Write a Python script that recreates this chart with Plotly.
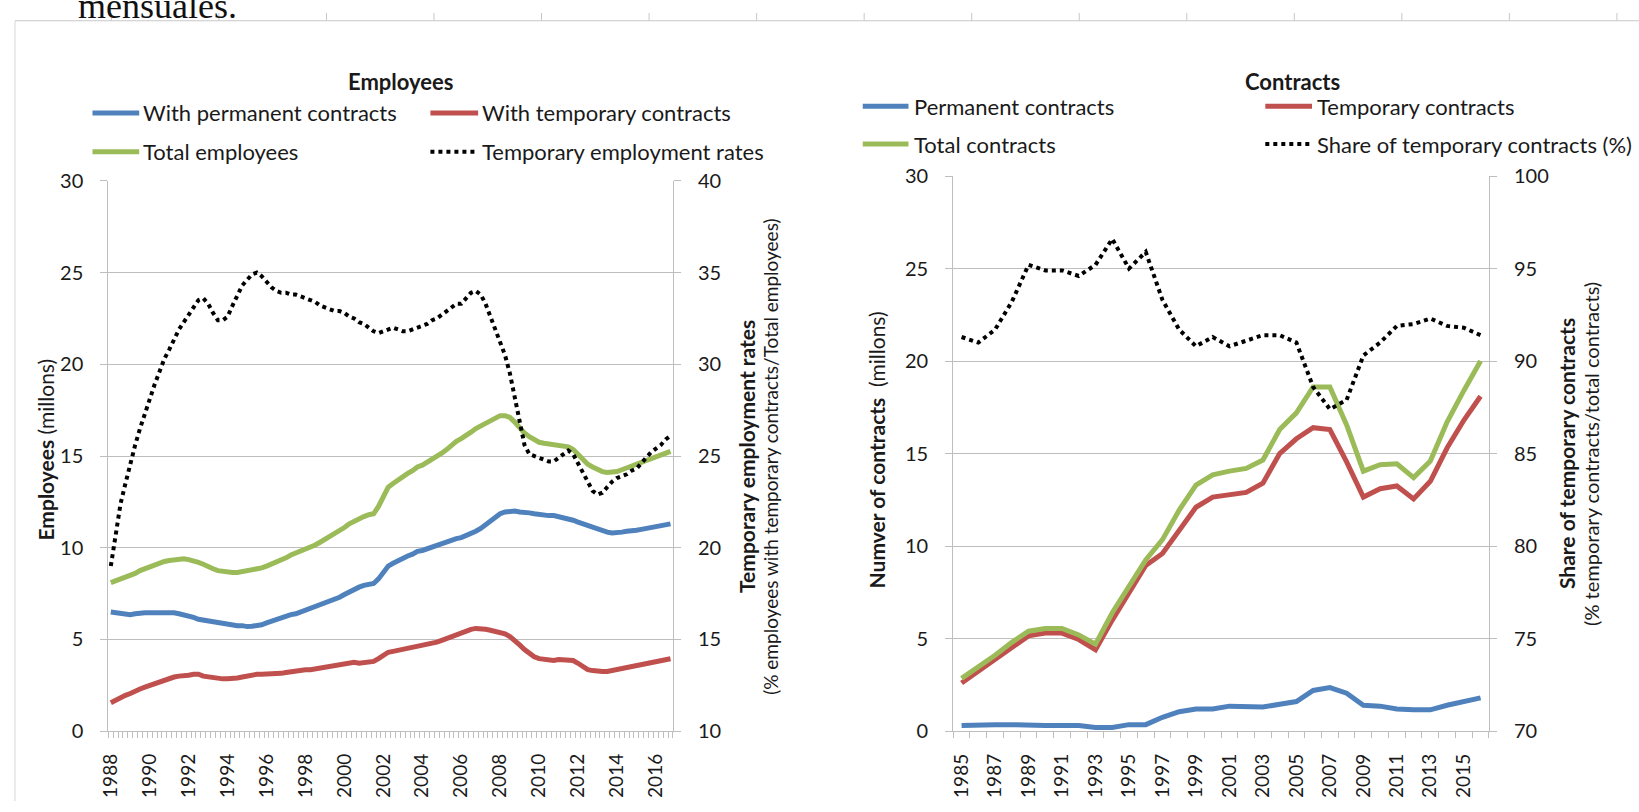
import plotly.graph_objects as go

# ---------------- Employees (quarterly, 1988Q1-2016Q4) ----------------
emp_years = list(range(1988, 2017))
emp_x = [y + q / 4 for y in emp_years for q in range(4)]

emp_permanent = [
    6.5, 6.45, 6.4, 6.35,  6.35, 6.4, 6.45, 6.45,  6.45, 6.45, 6.5, 6.45,
    6.45, 6.45, 6.4, 6.35,  6.3, 6.2, 6.1, 6.05,  6.0, 5.95, 5.9, 5.85,
    5.85, 5.8, 5.75, 5.75,  5.7, 5.72, 5.75, 5.8,  5.9, 6.0, 6.1, 6.2,
    6.25, 6.35, 6.4, 6.5,  6.55, 6.65, 6.75, 6.85,  6.95, 7.05, 7.15, 7.3,
    7.45, 7.6, 7.75, 7.85,  7.95, 8.0, 8.05, 8.3,  8.7, 9.0, 9.15, 9.3,
    9.45, 9.55, 9.65, 9.8,  9.85, 9.95, 10.05, 10.1,  10.2, 10.3, 10.4, 10.5,
    10.55, 10.65, 10.75, 10.9,  11.05, 11.25, 11.45, 11.65,  11.85, 11.95, 12.0, 12.0,
    11.95, 11.95, 11.9, 11.85,  11.8, 11.8, 11.75, 11.75,  11.7, 11.65, 11.6, 11.5,
    11.4, 11.3, 11.2, 11.1,  11.0, 10.9, 10.85, 10.8,  10.8, 10.85, 10.9, 10.9,
    10.95, 11.0, 11.05, 11.1,  11.15, 11.2, 11.25, 11.3,
]
emp_temporary = [
    1.55, 1.7, 1.85, 1.95,  2.05, 2.2, 2.3, 2.4,  2.5, 2.6, 2.7, 2.8,
    2.85, 2.95, 3.0, 3.0,  3.05, 3.1, 3.1, 3.0,  2.95, 2.9, 2.85, 2.85,
    2.85, 2.85, 2.9, 2.95,  3.0, 3.1, 3.1, 3.1,  3.1, 3.15, 3.15, 3.15,
    3.2, 3.25, 3.3, 3.3,  3.35, 3.35, 3.4, 3.45,  3.5, 3.55, 3.6, 3.65,
    3.65, 3.7, 3.75, 3.7,  3.75, 3.8, 3.8, 3.95,  4.15, 4.3, 4.35, 4.4,
    4.45, 4.5, 4.55, 4.6,  4.65, 4.7, 4.8, 4.85,  4.95, 5.05, 5.2, 5.3,
    5.4, 5.45, 5.55, 5.6,  5.6, 5.55, 5.5, 5.45,  5.4, 5.3, 5.15, 4.95,
    4.7, 4.45, 4.25, 4.05,  3.95, 3.9, 3.9, 3.85,  3.9, 3.9, 3.9, 3.85,
    3.7, 3.5, 3.35, 3.3,  3.25, 3.25, 3.25, 3.3,  3.35, 3.4, 3.45, 3.5,
    3.55, 3.6, 3.7, 3.75,  3.8, 3.85, 3.9, 3.95,
]
emp_total = [
    8.1, 8.2, 8.3, 8.35,  8.45, 8.6, 8.75, 8.85,  8.95, 9.05, 9.2, 9.25,
    9.3, 9.35, 9.4, 9.4,  9.35, 9.3, 9.2, 9.1,  8.95, 8.85, 8.75, 8.7,
    8.7, 8.65, 8.65, 8.7,  8.7, 8.8, 8.85, 8.9,  9.0, 9.1, 9.2, 9.3,
    9.45, 9.6, 9.7, 9.8,  9.9, 10.0, 10.15, 10.3,  10.45, 10.6, 10.75, 10.95,
    11.1, 11.3, 11.45, 11.55,  11.7, 11.8, 11.85, 12.25,  12.85, 13.3, 13.5, 13.7,
    13.9, 14.05, 14.2, 14.4,  14.5, 14.65, 14.85, 14.95,  15.15, 15.35, 15.6, 15.8,
    15.95, 16.1, 16.3, 16.5,  16.65, 16.8, 16.95, 17.1,  17.2, 17.2, 17.1, 16.85,
    16.5, 16.25, 16.05, 15.9,  15.75, 15.7, 15.65, 15.6,  15.6, 15.55, 15.5, 15.35,
    15.1, 14.8, 14.55, 14.4,  14.25, 14.15, 14.1, 14.1,  14.15, 14.25, 14.35, 14.4,
    14.5, 14.6, 14.75, 14.85,  14.95, 15.05, 15.15, 15.25,
]
temp_employment_rate = [
    19.0, 20.8, 22.4, 23.5,  24.6, 25.6, 26.5, 27.3,  28.2, 28.9, 29.6, 30.3,
    30.8, 31.4, 31.9, 32.3,  32.7, 33.1, 33.5, 33.6,  33.3, 32.8, 32.4, 32.4,
    32.6, 33.2, 33.8, 34.3,  34.6, 34.9, 35.0, 34.8,  34.5, 34.2, 34.0, 33.9,
    33.9, 33.8, 33.8, 33.7,  33.6, 33.5, 33.4, 33.2,  33.1, 33.0, 32.9, 32.9,
    32.8, 32.6, 32.5, 32.3,  32.2, 32.0, 31.8, 31.7,  31.8, 31.9, 32.0, 31.9,
    31.8, 31.8, 31.9, 32.0,  32.1, 32.2, 32.4, 32.5,  32.7, 32.9, 33.1, 33.3,
    33.3, 33.6, 33.9, 34.0,  33.8, 33.3, 32.6, 31.9,  31.2, 30.5, 29.5, 28.2,
    26.8, 25.6, 25.1, 25.0,  24.9, 24.8, 24.7, 24.7,  24.9, 25.1, 25.3, 25.1,
    24.6, 24.0, 23.5, 23.1,  22.9, 23.0, 23.3, 23.6,  23.8, 23.9, 24.0, 24.2,
    24.3, 24.6, 24.9, 25.2,  25.4, 25.6, 25.9, 26.1,
]
emp_tick_years = list(range(1988, 2017, 2))

# ---------------- Contracts (annual, 1985-2016) ----------------
contract_years = list(range(1985, 2017))
contracts_permanent = [
    0.3, 0.35, 0.35, 0.35, 0.3, 0.3, 0.3, 0.3, 0.2, 0.2, 0.35, 0.35,
    0.75, 1.05, 1.2, 1.2, 1.35, 1.3, 1.3, 1.45, 1.6, 2.2, 2.35, 2.05,
    1.4, 1.35, 1.2, 1.15, 1.15, 1.4, 1.6, 1.8,
]
contracts_temporary = [
    2.6, 3.25, 3.9, 4.55, 5.15, 5.3, 5.3, 4.95, 4.4, 6.0, 7.5, 8.95,
    9.6, 10.9, 12.1, 12.65, 12.75, 12.9, 13.4, 15.0, 15.8, 16.4, 16.3, 14.55,
    12.65, 13.1, 13.25, 12.55, 13.5, 15.3, 16.8, 18.1,
]
contracts_total = [
    2.85, 3.45, 4.1, 4.8, 5.4, 5.55, 5.55, 5.2, 4.7, 6.4, 7.8, 9.25,
    10.35, 11.95, 13.3, 13.85, 14.05, 14.2, 14.65, 16.3, 17.2, 18.6, 18.6, 16.55,
    14.05, 14.4, 14.45, 13.7, 14.6, 16.7, 18.4, 20.0,
]
temp_contract_share = [
    91.3, 91.0, 91.7, 93.2, 95.2, 94.9, 94.9, 94.6, 95.2, 96.6, 95.0, 95.9,
    93.3, 91.7, 90.8, 91.3, 90.8, 91.1, 91.4, 91.4, 91.0, 88.6, 87.4, 87.9,
    90.3, 91.0, 91.9, 92.0, 92.3, 91.9, 91.8, 91.4,
]
contract_tick_years = list(range(1985, 2016, 2))

# ---------------- styling ----------------
W, H = 1639, 812
BLUE, RED, GREEN = "#4F81BD", "#C0504D", "#9BBB59"
GRID = "#BEBEBE"
FONT = "Lato"
TXT = "#1a1a1a"
DOTS = "4px,4px"


def px_x(v):
    return v / W


def px_y(v):
    return 1 - v / H


fig = go.Figure()

solid = dict(width=5)
dotted = dict(color="black", width=4, dash=DOTS)

fig.add_trace(go.Scatter(x=emp_x, y=emp_permanent, mode="lines",
                         line=dict(color=BLUE, **solid), xaxis="x", yaxis="y"))
fig.add_trace(go.Scatter(x=emp_x, y=emp_temporary, mode="lines",
                         line=dict(color=RED, **solid), xaxis="x", yaxis="y"))
fig.add_trace(go.Scatter(x=emp_x, y=emp_total, mode="lines",
                         line=dict(color=GREEN, **solid), xaxis="x", yaxis="y"))
fig.add_trace(go.Scatter(x=emp_x, y=temp_employment_rate, mode="lines",
                         line=dotted, xaxis="x", yaxis="y2"))

fig.add_trace(go.Scatter(x=contract_years, y=contracts_permanent, mode="lines",
                         line=dict(color=BLUE, **solid), xaxis="x2", yaxis="y3"))
fig.add_trace(go.Scatter(x=contract_years, y=contracts_temporary, mode="lines",
                         line=dict(color=RED, **solid), xaxis="x2", yaxis="y3"))
fig.add_trace(go.Scatter(x=contract_years, y=contracts_total, mode="lines",
                         line=dict(color=GREEN, **solid), xaxis="x2", yaxis="y3"))
fig.add_trace(go.Scatter(x=contract_years, y=temp_contract_share, mode="lines",
                         line=dotted, xaxis="x2", yaxis="y4"))

# plot-area boxes in pixels
L = dict(x0=99, x1=667, y0=173, y1=740)
R = dict(x0=949, x1=1488, y0=168, y1=740)

tickfont = dict(family=FONT, size=20, color=TXT)
yaxis_common = dict(showline=True, linecolor=GRID, linewidth=1.2, ticks="outside",
                    ticklen=7, tickcolor=GRID, tickfont=tickfont, zeroline=False,
                    ticklabelstandoff=13)
xaxis_common = dict(showline=True, linecolor=GRID, linewidth=1.2, showgrid=False,
                    zeroline=False, tickangle=-90, ticks="",
                    tickfont=dict(family=FONT, size=19, color=TXT), ticklabelstandoff=14)

fig.update_layout(
    width=W, height=H, margin=dict(l=0, r=0, t=0, b=0),
    paper_bgcolor="white", plot_bgcolor="white", showlegend=False,
    xaxis=dict(domain=[px_x(L["x0"]), px_x(L["x1"])], anchor="y",
               range=[1987.875, 2016.875], tickmode="array", tickvals=emp_tick_years,
               minor=dict(ticks="outside", ticklen=6, tickcolor=GRID, tick0=1987.875,
                          dtick=0.25, showgrid=False),
               **xaxis_common),
    yaxis=dict(domain=[px_y(L["y1"]), px_y(L["y0"])], anchor="x", range=[0, 30],
               dtick=5, showgrid=True, gridcolor=GRID, gridwidth=1.2, **yaxis_common),
    yaxis2=dict(overlaying="y", side="right", anchor="x", range=[10, 40], dtick=5,
                showgrid=False, **yaxis_common),
    xaxis2=dict(domain=[px_x(R["x0"]), px_x(R["x1"])], anchor="y3",
                range=[1984.5, 2016.5], tickmode="array", tickvals=contract_tick_years,
                minor=dict(ticks="outside", ticklen=6, tickcolor=GRID, tick0=1984.5,
                           dtick=1, showgrid=False),
                **xaxis_common),
    yaxis3=dict(domain=[px_y(R["y1"]), px_y(R["y0"])], anchor="x2", range=[0, 30],
                dtick=5, showgrid=True, gridcolor=GRID, gridwidth=1.2, **yaxis_common),
    yaxis4=dict(overlaying="y3", side="right", anchor="x2", range=[70, 100], dtick=5,
                showgrid=False, **yaxis_common),
)

annotations = []
shapes = []


def text(x, y, s, size=22, angle=0, xanchor="left", yanchor="middle", family=FONT,
         color=TXT):
    annotations.append(dict(xref="paper", yref="paper", x=px_x(x), y=px_y(y), text=s,
                            showarrow=False, xanchor=xanchor, yanchor=yanchor,
                            textangle=angle, font=dict(family=family, size=size,
                                                       color=color)))


def hline(x0, x1, y, color, width=5, dash=None):
    ln = dict(color=color, width=width)
    if dash:
        ln["dash"] = dash
    shapes.append(dict(type="line", xref="paper", yref="paper", x0=px_x(x0),
                       x1=px_x(x1), y0=px_y(y), y1=px_y(y), line=ln))


# page furniture: cut-off text line and table rule above the charts
text(66, 15, "mensuales.", size=36, xanchor="left", yanchor="bottom",
     family="Liberation Serif", color="#111")
shapes.append(dict(type="line", xref="paper", yref="paper", x0=px_x(5), x1=1,
                   y0=px_y(8), y1=px_y(8), line=dict(color="#C8C8C8", width=1)))
shapes.append(dict(type="line", xref="paper", yref="paper", x0=px_x(5), x1=px_x(5),
                   y0=px_y(8), y1=0, line=dict(color="#D6D6D6", width=1)))
for k in range(15):
    xx = 102 + 108.2 * k
    shapes.append(dict(type="line", xref="paper", yref="paper", x0=px_x(xx),
                       x1=px_x(xx), y0=1, y1=px_y(8),
                       line=dict(color="#C8C8C8", width=1)))

# chart titles
text(393, 71, "<b>Employees</b>", size=22, xanchor="center")
text(1290, 71, "<b>Contracts</b>", size=22, xanchor="center")

# left legend
hline(83, 130, 103, BLUE)
text(132, 103, "With permanent contracts")
hline(423, 471, 103, RED)
text(473, 103, "With temporary contracts")
hline(83, 130, 143, GREEN)
text(132, 143, "Total employees")
hline(423, 469, 143, "black", width=4, dash=DOTS)
text(473, 143, "Temporary employment rates")

# right legend
hline(858, 904, 96, BLUE)
text(908, 96, "Permanent contracts")
hline(1263, 1310, 96, RED)
text(1313, 96, "Temporary contracts")
hline(858, 904, 135, GREEN)
text(908, 135, "Total contracts")
hline(1263, 1308, 135, "black", width=4, dash=DOTS)
text(1313, 135, "Share of temporary contracts (%)")

# axis titles
text(36, 450, "<b>Employees</b> (millons)", size=21, angle=-90, xanchor="center")
text(741, 457, "<b>Temporary employment rates</b>", size=21, angle=-90,
     xanchor="center")
text(765, 457, "(% employees with temporary contracts/Total employees)", size=19,
     angle=-90, xanchor="center")
text(872, 450, "<b>Numver of contracts</b>  (millons)", size=21, angle=-90,
     xanchor="center")
text(1566, 454, "<b>Share of temporary contracts</b>", size=21, angle=-90,
     xanchor="center")
text(1590, 454, "(% temporary contracts/total contracts)", size=20, angle=-90,
     xanchor="center")

fig.update_layout(annotations=annotations, shapes=shapes)

fig.write_html("out.html")
